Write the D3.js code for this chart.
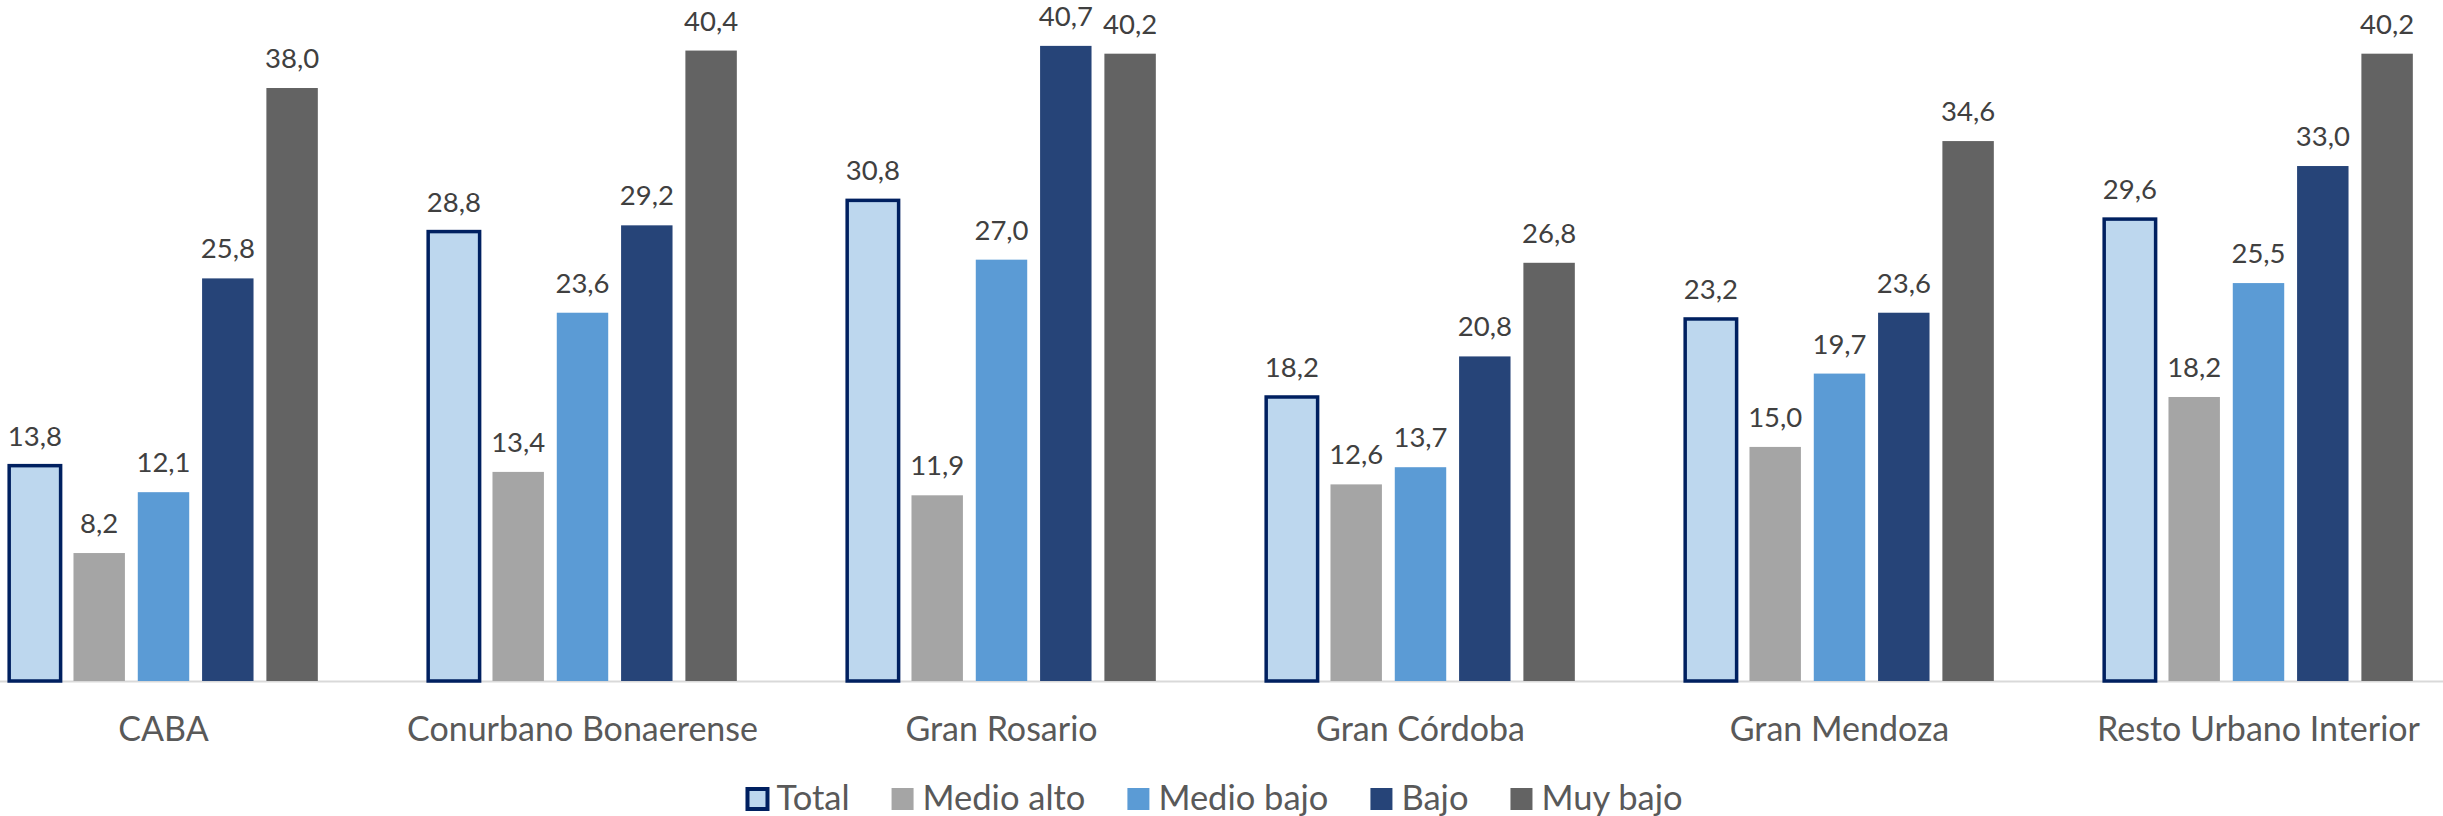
<!DOCTYPE html>
<html>
<head>
<meta charset="utf-8">
<script src="https://cdn.jsdelivr.net/npm/d3@7"></script>
<style>
  body { margin: 0; background: #fff; }
  text { font-family: Lato, "Open Sans", sans-serif; }
</style>
</head>
<body>
<div id="chart"></div>
<script>
(function(){
// regions on the x axis
const regions = ["CABA", "Conurbano Bonaerense", "Gran Rosario", "Gran Córdoba", "Gran Mendoza", "Resto Urbano Interior"];
// series (legend order)
const series = ["Total", "Medio alto", "Medio bajo", "Bajo", "Muy bajo"];
// values per series, one per region
const total     = [13.8, 28.8, 30.8, 18.2, 23.2, 29.6];
const medioAlto = [8.2, 13.4, 11.9, 12.6, 15.0, 18.2];
const medioBajo = [12.1, 23.6, 27.0, 13.7, 19.7, 25.5];
const bajo      = [25.8, 29.2, 40.7, 20.8, 23.6, 33.0];
const muyBajo   = [38.0, 40.4, 40.2, 26.8, 34.6, 40.2];
const values = [total, medioAlto, medioBajo, bajo, muyBajo];

const width = 2443, height = 816;
const baseY = 681;

const fill = d3.scaleOrdinal().domain(series)
    .range(["#bdd7ee", "#a5a5a5", "#5b9bd5", "#264478", "#636363"]);

const svg = d3.select("#chart").append("svg")
    .attr("width", width)
    .attr("height", height);

// group positions
const x0 = d3.scaleBand().domain(regions).range([-46, 2468]);
const x1 = d3.scaleBand().domain(series).range([0, x0.bandwidth()])
    .paddingInner(0.2).paddingOuter(0.858);
const y = d3.scaleLinear().domain([0, 43.64]).range([baseY, 0]);

const fmt = v => d3.format(".1f")(v).replace(".", ",");

// axis line + category labels
const axis = svg.append("g")
    .attr("transform", "translate(0," + baseY + ")")
    .call(d3.axisBottom(x0).tickSize(0).tickSizeOuter(0));
axis.select(".domain").attr("stroke", "#d9d9d9").attr("stroke-width", 2);
axis.selectAll(".tick text")
    .attr("y", 60).attr("dy", null)
    .attr("fill", "#595959")
    .style("font-size", "34px");

// rows of data: one per region
const rows = regions.map((r, i) => ({
    region: r,
    bars: series.map((s, j) => ({ key: s, value: values[j][i] }))
}));

const group = svg.selectAll("g.grp")
    .data(rows)
    .enter().append("g")
    .attr("class", "grp")
    .attr("transform", d => "translate(" + x0(d.region) + ",0)");

group.selectAll("rect")
    .data(d => d.bars)
    .enter().append("rect")
    .attr("x", d => x1(d.key))
    .attr("y", d => y(d.value))
    .attr("width", x1.bandwidth())
    .attr("height", d => baseY - y(d.value))
    .attr("fill", d => fill(d.key))
    .attr("stroke", d => d.key === "Total" ? "#002060" : "none")
    .attr("stroke-width", 3.5);

group.selectAll("text.lbl")
    .data(d => d.bars)
    .enter().append("text")
    .attr("class", "lbl")
    .attr("x", d => x1(d.key) + x1.bandwidth() / 2)
    .attr("y", d => y(d.value) - 20)
    .attr("text-anchor", "middle")
    .attr("fill", "#404040")
    .style("font-size", "27.5px")
    .text(d => fmt(d.value));

// legend
const legend = svg.append("g");
let cx = 0;
series.forEach(s => {
    const item = legend.append("g").attr("transform", "translate(" + cx + ",0)");
    item.append("rect")
        .attr("x", s === "Total" ? 2 : 0).attr("y", s === "Total" ? 789 : 788)
        .attr("width", s === "Total" ? 20 : 22).attr("height", s === "Total" ? 20 : 22)
        .attr("fill", fill(s))
        .attr("stroke", s === "Total" ? "#002060" : "none")
        .attr("stroke-width", 4);
    const t = item.append("text")
        .attr("x", 31).attr("y", 810)
        .attr("fill", "#595959")
        .style("font-size", "34.5px")
        .text(s);
    cx += 31 + t.node().getComputedTextLength() + 42;
});
const lw = cx - 42;
legend.attr("transform", "translate(" + (1214 - lw / 2) + ",0)");
})();
</script>
</body>
</html>
